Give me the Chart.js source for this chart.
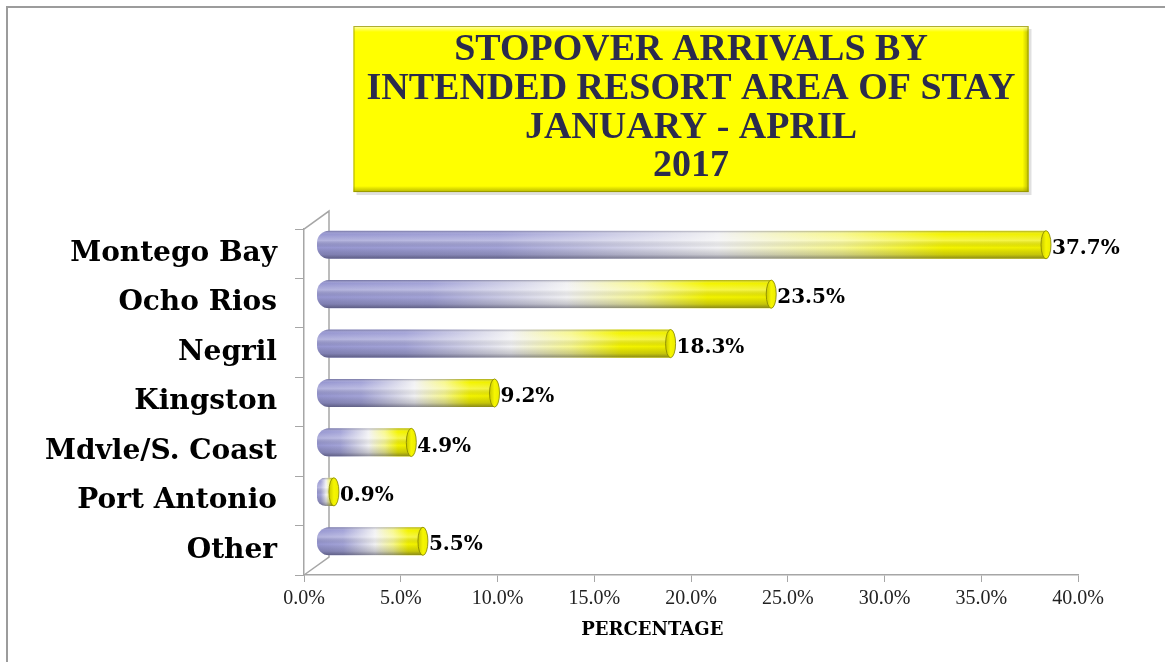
<!DOCTYPE html>
<html>
<head>
<meta charset="utf-8">
<script src="https://cdn.jsdelivr.net/npm/chart.js@4"></script>
<style>
  html, body { margin: 0; padding: 0; background: #fff; }
  canvas { display: block; }
</style>
</head>
<body>
<canvas id="resort_chart" width="1165" height="662"></canvas>
<script>
var categories = ["Montego Bay", "Ocho Rios", "Negril", "Kingston", "Mdvle/S. Coast", "Port Antonio", "Other"];
var shares = [37.7, 23.5, 18.3, 9.2, 4.9, 0.9, 5.5];
var titleLines = ["STOPOVER ARRIVALS BY", "INTENDED RESORT AREA OF STAY", "JANUARY - APRIL", "2017"];
var axisTitle = "PERCENTAGE";

// 3d depth of the plot box (bars sit half way back)
var depth = { dx: 25, dy: -18 };
var frameColor = "#a6a6a6";

function barFill(c) {
  var chart = c.chart;
  if (!chart.chartArea || c.raw === undefined) return "#a0a0d8";
  var xs = chart.scales.x;
  var x0 = xs.getPixelForValue(0), x1 = xs.getPixelForValue(c.raw);
  var g = chart.ctx.createLinearGradient(x0, 0, x1, 0);
  g.addColorStop(0, "#9696d0");
  g.addColorStop(0.25, "#a4a4d8");
  g.addColorStop(0.55, "#f2f2f4");
  g.addColorStop(0.72, "#f8f890");
  g.addColorStop(0.86, "#f4f400");
  g.addColorStop(1, "#eeee00");
  return g;
}

var cylinderPlugin = {
  id: "cylinders",
  beforeDraw: function(chart) {
    var ctx = chart.ctx;
    ctx.save();
    ctx.fillStyle = "#fff";
    ctx.fillRect(0, 0, chart.width, chart.height);
    ctx.strokeStyle = "#9c9c9c";
    ctx.lineWidth = 2;
    ctx.strokeRect(7, 7, chart.width + 20, chart.height + 20);

    // yellow title box
    var tb = chart.titleBlock;
    var opts = chart.options.plugins.title;
    ctx.font = "bold " + opts.font.size + "px 'Liberation Serif'";
    var maxW = 0;
    titleLines.forEach(function(t) { maxW = Math.max(maxW, ctx.measureText(t).width); });
    var cx = (tb.left + tb.right) / 2;
    var lh = opts.font.size * opts.font.lineHeight;
    var bx = cx - maxW / 2 - 13, bw = maxW + 26;
    var by = tb.top + opts.padding.top - 5, bh = lh * titleLines.length + 11;
    ctx.fillStyle = "rgba(0,0,0,0.12)";
    ctx.fillRect(bx + 3, by + 3, bw, bh);
    ctx.fillStyle = "#ffff00";
    ctx.fillRect(bx, by, bw, bh);
    var e = 6, g;
    g = ctx.createLinearGradient(0, by + bh - e, 0, by + bh);
    g.addColorStop(0, "rgba(150,150,0,0)"); g.addColorStop(1, "rgba(150,150,0,0.7)");
    ctx.fillStyle = g; ctx.fillRect(bx, by + bh - e, bw, e);
    g = ctx.createLinearGradient(bx + bw - e, 0, bx + bw, 0);
    g.addColorStop(0, "rgba(150,150,0,0)"); g.addColorStop(1, "rgba(150,150,0,0.6)");
    ctx.fillStyle = g; ctx.fillRect(bx + bw - e, by, e, bh);
    g = ctx.createLinearGradient(0, by, 0, by + e);
    g.addColorStop(0, "rgba(255,255,200,0.9)"); g.addColorStop(1, "rgba(255,255,200,0)");
    ctx.fillStyle = g; ctx.fillRect(bx, by, bw, e);
    ctx.strokeStyle = "rgba(140,140,0,0.7)";
    ctx.lineWidth = 1;
    ctx.strokeRect(bx + 0.5, by + 0.5, bw - 1, bh - 1);
    ctx.restore();
  },
  beforeDatasetsDraw: function(chart) {
    var ctx = chart.ctx, a = chart.chartArea;
    ctx.save();
    ctx.strokeStyle = frameColor;
    ctx.lineWidth = 1.5;
    ctx.beginPath();
    ctx.moveTo(a.left, a.top);
    ctx.lineTo(a.left + depth.dx, a.top + depth.dy);
    ctx.lineTo(a.left + depth.dx, a.bottom + depth.dy);
    ctx.lineTo(a.left, a.bottom);
    ctx.stroke();
    ctx.restore();
    ctx.save();
    ctx.translate(depth.dx / 2, depth.dy / 2);
  },
  afterDatasetsDraw: function(chart) {
    var ctx = chart.ctx;
    var meta = chart.getDatasetMeta(0);
    meta.data.forEach(function(el, i) {
      var p = el.getProps(["x", "y", "base", "height"], true);
      var h = p.height, w = p.x - p.base, top = p.y - h / 2;
      var r = Math.min(12, w / 2, h / 2);
      // round shading across the bar
      ctx.save();
      ctx.beginPath();
      ctx.roundRect(p.base, top, w, h, [r, 0, 0, r]);
      ctx.clip();
      var g = ctx.createLinearGradient(0, top, 0, top + h);
      g.addColorStop(0, "rgba(40,40,70,0.40)");
      g.addColorStop(0.12, "rgba(255,255,255,0)");
      g.addColorStop(0.35, "rgba(255,255,255,0.28)");
      g.addColorStop(0.6, "rgba(0,0,0,0)");
      g.addColorStop(0.85, "rgba(30,30,50,0.20)");
      g.addColorStop(1, "rgba(30,30,50,0.50)");
      ctx.fillStyle = g;
      ctx.fillRect(p.base, top, w, h);
      ctx.restore();
      // end cap
      ctx.save();
      ctx.beginPath();
      ctx.ellipse(p.x, p.y, 5, h / 2, 0, 0, Math.PI * 2);
      var cg = ctx.createLinearGradient(p.x - 5, 0, p.x + 5, 0);
      cg.addColorStop(0, "#c8c800");
      cg.addColorStop(0.5, "#f6f600");
      cg.addColorStop(1, "#ecec00");
      ctx.fillStyle = cg;
      ctx.fill();
      ctx.strokeStyle = "rgba(130,130,0,0.8)";
      ctx.lineWidth = 1;
      ctx.stroke();
      ctx.restore();
      // value label
      ctx.save();
      ctx.fillStyle = "#000";
      ctx.font = "bold 20px 'DejaVu Serif'";
      ctx.textAlign = "left";
      ctx.textBaseline = "middle";
      ctx.fillText(shares[i].toFixed(1) + "%", p.x + 6, p.y + 4);
      ctx.restore();
    });
    ctx.restore();

    // axis title
    var a = chart.chartArea;
    ctx.save();
    ctx.fillStyle = "#000";
    ctx.font = "bold 18px 'DejaVu Serif'";
    ctx.textAlign = "center";
    ctx.textBaseline = "middle";
    ctx.fillText(axisTitle, a.left + (a.right - a.left) * 0.45, a.bottom + 55);
    ctx.restore();
  }
};

var ctx = document.getElementById("resort_chart");
var myChart = new Chart(ctx, {
  type: "bar",
  data: {
    labels: categories,
    datasets: [{
      label: "Share of stopover arrivals",
      data: shares,
      backgroundColor: barFill,
      borderWidth: 0,
      borderSkipped: false,
      borderRadius: { topLeft: 12, bottomLeft: 12, topRight: 0, bottomRight: 0 },
      barPercentage: 0.57,
      categoryPercentage: 1
    }]
  },
  options: {
    indexAxis: "y",
    responsive: false,
    animation: false,
    devicePixelRatio: 1,
    layout: { padding: { left: 0, right: 87, top: 0, bottom: 0 } },
    plugins: {
      legend: { display: false },
      tooltip: { enabled: false },
      title: {
        display: true,
        fullSize: false,
        text: titleLines,
        color: "#2b2b4d",
        font: { family: "Liberation Serif", size: 38, weight: "bold", lineHeight: 1.02 },
        padding: { top: 31, bottom: 43 }
      }
    },
    scales: {
      x: {
        min: 0,
        max: 40,
        grid: { drawOnChartArea: false, tickLength: 7, color: frameColor },
        border: { color: frameColor, width: 1.5 },
        ticks: {
          stepSize: 5,
          padding: 5,
          color: "#222",
          font: { family: "Liberation Serif", size: 20 },
          callback: function(v) { return v.toFixed(1) + "%"; }
        },
        afterFit: function(s) { s.height = 87; }
      },
      y: {
        grid: { drawOnChartArea: false, tickLength: 9, color: frameColor, offset: true },
        border: { color: frameColor, width: 1.5 },
        ticks: {
          color: "#000",
          padding: 18,
          font: { family: "DejaVu Serif", size: 28, weight: "bold" }
        },
        afterFit: function(s) { s.width = 304; }
      }
    }
  },
  plugins: [cylinderPlugin]
});
</script>
</body>
</html>
